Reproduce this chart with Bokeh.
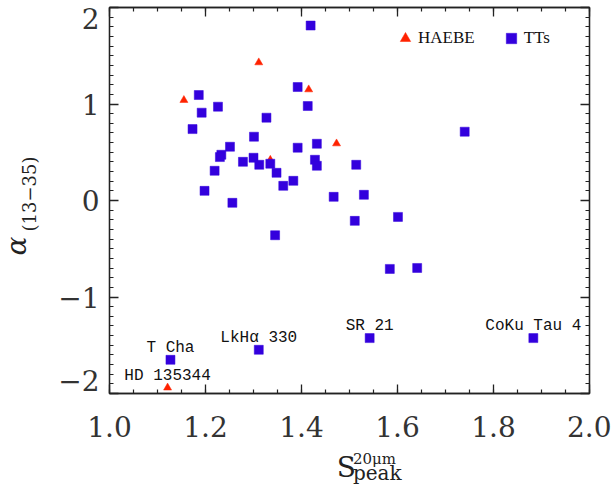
from math import pi

from bokeh.core.properties import value
from bokeh.embed import file_html
from bokeh.layouts import column, row
from bokeh.models import (ColumnDataSource, FixedTicker, Legend, LegendItem,
                          LinearAxis, PrintfTickFormatter, Range1d, SingleIntervalTicker)
from bokeh.plotting import figure
from bokeh.resources import INLINE

# Herbig Ae/Be stars: peak strength of the 20 micron feature vs. 13-35 micron index
haebe_speak = [1.311, 1.415, 1.155, 1.473, 1.335, 1.121]
haebe_alpha = [1.43, 1.15, 1.04, 0.59, 0.42, -1.94]
haebe_name = ["", "", "", "", "", "HD 135344"]

# T Tauri stars
tts_speak = [1.419, 1.392, 1.186, 1.226, 1.413, 1.192, 1.327, 1.173, 1.740, 1.301,
             1.432, 1.251, 1.392, 1.233, 1.230, 1.300, 1.428, 1.278, 1.312, 1.335,
             1.432, 1.514, 1.219, 1.348, 1.383, 1.362, 1.198, 1.467, 1.530, 1.256,
             1.601, 1.511, 1.345, 1.584, 1.641, 1.542, 1.883, 1.311, 1.127]
tts_alpha = [1.813, 1.176, 1.093, 0.972, 0.979, 0.910, 0.858, 0.740, 0.713, 0.661,
             0.588, 0.557, 0.547, 0.474, 0.450, 0.443, 0.422, 0.401, 0.370, 0.381,
             0.360, 0.370, 0.308, 0.287, 0.204, 0.152, 0.100, 0.038, 0.059, -0.024,
             -0.170, -0.211, -0.360, -0.709, -0.699, -1.426, -1.426, -1.547, -1.651]
tts_name = [""] * 35 + ["SR 21", "CoKu Tau 4", "LkHα 330", "T Cha"]

# y tick labels; the end labels sit just inside the frame
ylabel_pos = [-1.87, -1.0, 0.0, 1.0, 1.89]
ylabel_text = ["−2", "−1", "0", "1", "2"]

RED = "#FF2200"
BLUE = "#3300DD"
INK = "#222222"
SERIF = "DejaVu Serif"

# sizes of the three panels (y title | plot over x title)
LEFT_W = 45
PLOT_W, PLOT_H = 566, 445
TOTAL_H = 491
XT_H = TOTAL_H - PLOT_H

p = figure(width=PLOT_W, height=PLOT_H, x_range=Range1d(1.0, 2.0), y_range=Range1d(-2.0, 2.0),
           output_backend="svg", toolbar_location=None,
           x_axis_type=None, y_axis_type=None,
           min_border_left=64, min_border_right=22, min_border_top=7, min_border_bottom=52)
p.outline_line_color = INK
p.outline_line_width = 1.3


def box_axis(ax, ticker, show_labels):
    ax.ticker = ticker
    ax.axis_line_color = INK
    ax.axis_line_width = 1.3
    ax.major_tick_line_color = INK
    ax.major_tick_line_width = 1.3
    ax.minor_tick_line_color = INK
    ax.minor_tick_line_width = 1.2
    ax.major_tick_in = 9
    ax.major_tick_out = 0
    ax.minor_tick_in = 4
    ax.minor_tick_out = 0
    if not show_labels:
        ax.major_label_text_font_size = "0px"
        ax.major_label_standoff = 0
    return ax


xticker = SingleIntervalTicker(interval=0.2, num_minor_ticks=4)
yticker = SingleIntervalTicker(interval=1.0, num_minor_ticks=10)

xb = box_axis(LinearAxis(), xticker, True)
xb.formatter = PrintfTickFormatter(format="%.1f")
xb.major_label_text_font = SERIF
xb.major_label_text_font_size = "28px"
xb.major_label_text_color = "#333333"
xb.major_label_standoff = 22
p.add_layout(xb, "below")

p.add_layout(box_axis(LinearAxis(), xticker, False), "above")
p.add_layout(box_axis(LinearAxis(), yticker, False), "left")
p.add_layout(box_axis(LinearAxis(), yticker, False), "right")

# label-only axis for the y values
yl = LinearAxis(ticker=FixedTicker(ticks=ylabel_pos))
yl.major_label_overrides = dict(zip(ylabel_pos, ylabel_text))
yl.axis_line_color = None
yl.major_tick_line_color = None
yl.minor_tick_line_color = None
yl.major_tick_out = 0
yl.major_tick_in = 0
yl.major_label_text_font = SERIF
yl.major_label_text_font_size = "28px"
yl.major_label_text_color = "#333333"
yl.major_label_standoff = 10
p.add_layout(yl, "left")

r_h = p.scatter(haebe_speak, haebe_alpha, marker="triangle", size=8,
                fill_color=RED, line_color=RED, line_width=0.5)
r_t = p.scatter(tts_speak, tts_alpha, marker="square", size=9,
                fill_color=BLUE, line_color=BLUE, line_width=0.5)


def named(xs, ys, names):
    keep = [i for i, n in enumerate(names) if n]
    return ColumnDataSource(dict(x=[xs[i] for i in keep], y=[ys[i] for i in keep],
                                 name=[names[i] for i in keep]))


name_style = dict(text_font=value("Liberation Mono"), text_font_size="16px",
                  text_align="center", text_baseline="middle", y_offset=-12,
                  text_color="#111111")
p.text(x="x", y="y", text="name", source=named(haebe_speak, haebe_alpha, haebe_name),
       **name_style)
p.text(x="x", y="y", text="name", source=named(tts_speak, tts_alpha, tts_name),
       **name_style)

legend = Legend(items=[LegendItem(label="HAEBE", renderers=[r_h]),
                       LegendItem(label="TTs", renderers=[r_t])],
                orientation="horizontal", location=(283, 342),
                glyph_width=26, glyph_height=26, label_standoff=0, spacing=23,
                padding=0, margin=0, border_line_color=None, background_fill_alpha=0,
                label_text_font="Liberation Serif", label_text_font_size="17px",
                label_text_color="#111111")
p.add_layout(legend)


def title_panel(w, h):
    f = figure(width=w, height=h, x_range=Range1d(0, w), y_range=Range1d(0, h),
               output_backend="svg", toolbar_location=None,
               x_axis_type=None, y_axis_type=None, min_border=0)
    f.outline_line_color = None
    return f


title_style = dict(text_color=INK, text_font=value(SERIF),
                   text_baseline="middle", text_align="left")

# y title: alpha with subscript (13-35), reading upwards
yt = title_panel(LEFT_W, TOTAL_H)
yt.text(x=[15.5], y=[TOTAL_H - 255], text=["α"], angle=pi / 2, text_font_size="28px",
        text_font_style="italic", **title_style)
yt.text(x=[28.5], y=[TOTAL_H - 231], text=["(13−35)"], angle=pi / 2,
        text_font_size="18px", **title_style)

# x title: S with superscript 20 micron and subscript peak
xt = title_panel(PLOT_W, XT_H)
xt.text(x=[313 - LEFT_W], y=[TOTAL_H - 467], text=["S"], text_font_size="28px",
        **title_style)
xt.text(x=[332 - LEFT_W], y=[TOTAL_H - 458], text=["20μm"], text_font_size="15px",
        **title_style)
xt.text(x=[332 - LEFT_W], y=[TOTAL_H - 472], text=["peak"], text_font_size="20px",
        **title_style)

layout = row(yt, column(p, xt, spacing=0), spacing=0)
open("out.html", "w").write(file_html(layout, INLINE))
